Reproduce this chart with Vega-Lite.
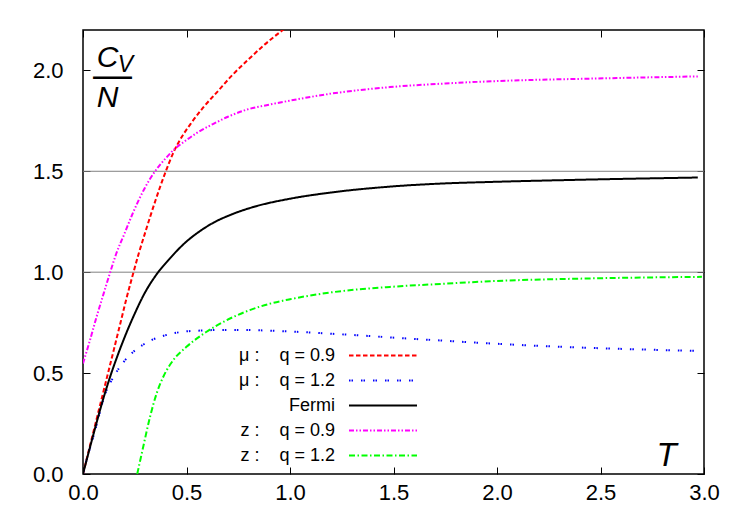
{
  "$schema": "https://vega.github.io/schema/vega-lite/v6.json",
  "width": 621,
  "height": 444,
  "autosize": "none",
  "padding": {"left": 83, "top": 30, "right": 46, "bottom": 51},
  "background": "#ffffff",
  "datasets": {
    "curves": [
      {"s": "A", "T": 0, "C": 0},
      {"s": "A", "T": 0.03, "C": 0.125},
      {"s": "A", "T": 0.07, "C": 0.29},
      {"s": "A", "T": 0.11, "C": 0.455},
      {"s": "A", "T": 0.15, "C": 0.62},
      {"s": "A", "T": 0.18, "C": 0.745},
      {"s": "A", "T": 0.21, "C": 0.87},
      {"s": "A", "T": 0.24, "C": 0.985},
      {"s": "A", "T": 0.27, "C": 1.095},
      {"s": "A", "T": 0.3, "C": 1.195},
      {"s": "A", "T": 0.35, "C": 1.355},
      {"s": "A", "T": 0.4, "C": 1.5},
      {"s": "A", "T": 0.44, "C": 1.6},
      {"s": "A", "T": 0.48, "C": 1.675},
      {"s": "A", "T": 0.52, "C": 1.735},
      {"s": "A", "T": 0.58, "C": 1.815},
      {"s": "A", "T": 0.65, "C": 1.895},
      {"s": "A", "T": 0.72, "C": 1.975},
      {"s": "A", "T": 0.8, "C": 2.055},
      {"s": "A", "T": 0.88, "C": 2.13},
      {"s": "A", "T": 0.965, "C": 2.2},
      {"s": "A", "T": 1.0, "C": 2.228},

      {"s": "B", "T": 0, "C": 0},
      {"s": "B", "T": 0.011, "C": 0.045},
      {"s": "B", "T": 0.059, "C": 0.218},
      {"s": "B", "T": 0.108, "C": 0.4},
      {"s": "B", "T": 0.148, "C": 0.482},
      {"s": "B", "T": 0.197, "C": 0.556},
      {"s": "B", "T": 0.227, "C": 0.59},
      {"s": "B", "T": 0.253, "C": 0.614},
      {"s": "B", "T": 0.324, "C": 0.66},
      {"s": "B", "T": 0.4, "C": 0.688},
      {"s": "B", "T": 0.469, "C": 0.703},
      {"s": "B", "T": 0.55, "C": 0.71},
      {"s": "B", "T": 0.7, "C": 0.714},
      {"s": "B", "T": 0.85, "C": 0.712},
      {"s": "B", "T": 1.024, "C": 0.705},
      {"s": "B", "T": 1.25, "C": 0.692},
      {"s": "B", "T": 1.483, "C": 0.677},
      {"s": "B", "T": 1.75, "C": 0.66},
      {"s": "B", "T": 1.966, "C": 0.647},
      {"s": "B", "T": 2.2, "C": 0.635},
      {"s": "B", "T": 2.449, "C": 0.625},
      {"s": "B", "T": 2.7, "C": 0.617},
      {"s": "B", "T": 2.96, "C": 0.61},

      {"s": "F", "T": 0, "C": 0},
      {"s": "F", "T": 0.05, "C": 0.195},
      {"s": "F", "T": 0.1, "C": 0.38},
      {"s": "F", "T": 0.137, "C": 0.5},
      {"s": "F", "T": 0.17, "C": 0.595},
      {"s": "F", "T": 0.2, "C": 0.675},
      {"s": "F", "T": 0.25, "C": 0.795},
      {"s": "F", "T": 0.3, "C": 0.9},
      {"s": "F", "T": 0.356, "C": 0.99},
      {"s": "F", "T": 0.417, "C": 1.065},
      {"s": "F", "T": 0.5, "C": 1.152},
      {"s": "F", "T": 0.56, "C": 1.2},
      {"s": "F", "T": 0.63, "C": 1.245},
      {"s": "F", "T": 0.72, "C": 1.287},
      {"s": "F", "T": 0.823, "C": 1.323},
      {"s": "F", "T": 1.0, "C": 1.364},
      {"s": "F", "T": 1.2, "C": 1.395},
      {"s": "F", "T": 1.483, "C": 1.424},
      {"s": "F", "T": 1.75, "C": 1.44},
      {"s": "F", "T": 1.966, "C": 1.447},
      {"s": "F", "T": 2.449, "C": 1.459},
      {"s": "F", "T": 2.97, "C": 1.469},

      {"s": "Z9", "T": 0, "C": 0.548},
      {"s": "Z9", "T": 0.03, "C": 0.65},
      {"s": "Z9", "T": 0.066, "C": 0.78},
      {"s": "Z9", "T": 0.1, "C": 0.895},
      {"s": "Z9", "T": 0.13, "C": 0.995},
      {"s": "Z9", "T": 0.16, "C": 1.09},
      {"s": "Z9", "T": 0.2, "C": 1.19},
      {"s": "Z9", "T": 0.243, "C": 1.298},
      {"s": "Z9", "T": 0.3, "C": 1.42},
      {"s": "Z9", "T": 0.348, "C": 1.5},
      {"s": "Z9", "T": 0.4, "C": 1.565},
      {"s": "Z9", "T": 0.436, "C": 1.604},
      {"s": "Z9", "T": 0.5, "C": 1.655},
      {"s": "Z9", "T": 0.55, "C": 1.69},
      {"s": "Z9", "T": 0.63, "C": 1.735},
      {"s": "Z9", "T": 0.7, "C": 1.77},
      {"s": "Z9", "T": 0.79, "C": 1.805},
      {"s": "Z9", "T": 0.9, "C": 1.83},
      {"s": "Z9", "T": 1.0, "C": 1.85},
      {"s": "Z9", "T": 1.2, "C": 1.885},
      {"s": "Z9", "T": 1.483, "C": 1.917},
      {"s": "Z9", "T": 1.75, "C": 1.935},
      {"s": "Z9", "T": 2.0, "C": 1.947},
      {"s": "Z9", "T": 2.449, "C": 1.959},
      {"s": "Z9", "T": 2.97, "C": 1.97},

      {"s": "Z12", "T": 0.262, "C": 0},
      {"s": "Z12", "T": 0.291, "C": 0.135},
      {"s": "Z12", "T": 0.324, "C": 0.284},
      {"s": "Z12", "T": 0.356, "C": 0.4},
      {"s": "Z12", "T": 0.388, "C": 0.482},
      {"s": "Z12", "T": 0.436, "C": 0.564},
      {"s": "Z12", "T": 0.5, "C": 0.63},
      {"s": "Z12", "T": 0.597, "C": 0.705},
      {"s": "Z12", "T": 0.694, "C": 0.762},
      {"s": "Z12", "T": 0.8, "C": 0.81},
      {"s": "Z12", "T": 0.9, "C": 0.843},
      {"s": "Z12", "T": 1.0, "C": 0.866},
      {"s": "Z12", "T": 1.2, "C": 0.9},
      {"s": "Z12", "T": 1.483, "C": 0.927},
      {"s": "Z12", "T": 1.75, "C": 0.943},
      {"s": "Z12", "T": 1.966, "C": 0.955},
      {"s": "Z12", "T": 2.449, "C": 0.969},
      {"s": "Z12", "T": 2.99, "C": 0.977}
    ],
    "grid": [{"g": 1.0}, {"g": 1.5}]
  },
  "layer": [
    {
      "data": {"name": "grid"},
      "mark": {"type": "rule", "color": "#808080", "strokeWidth": 1},
      "encoding": {
        "y": {"field": "g", "type": "quantitative", "scale": {"domain": [0, 2.2], "nice": false, "zero": false}, "axis": null}
      }
    },
    {
      "data": {"name": "curves"},
      "mark": {"type": "line", "strokeWidth": 2, "clip": true, "strokeCap": "butt", "interpolate": "monotone"},
      "encoding": {
        "x": {"field": "T", "type": "quantitative", "scale": {"domain": [0, 3], "nice": false},
          "axis": {"orient": "bottom", "values": [0, 0.5, 1, 1.5, 2, 2.5, 3], "format": ".1f", "labelPadding": 15, "labelFlush": false, "labelFontSize": 22, "labelFont": "Liberation Sans",
            "title": "T", "titleFontSize": 33, "titleX": 583, "titleY": -9, "titleAlign": "center", "titleBaseline": "alphabetic"}},
        "y": {"field": "C", "type": "quantitative", "scale": {"domain": [0, 2.2], "nice": false, "zero": false},
          "axis": {"orient": "left", "values": [0, 0.5, 1, 1.5, 2], "format": ".1f", "labelPadding": 27, "labelFlush": false, "labelFontSize": 22, "labelFont": "Liberation Sans",
            "title": ["C", "N"], "titleFontSize": 30, "titleAngle": 0, "titleX": 24, "titleY": 36.5, "titleAlign": "center", "titleBaseline": "alphabetic", "titleLineHeight": 40}},
        "color": {"field": "s", "type": "nominal",
          "scale": {"domain": ["A", "B", "F", "Z9", "Z12"],
            "range": ["#ff0000", "#0000ff", "#000000", "#ff00ff", "#00ff00"]},
          "legend": {"title": null, "orient": "none", "legendX": 290.5, "legendY": 316, "padding": 0, "symbolType": "M-4,0H4", "symbolSize": 289, "symbolStrokeWidth": 2, "rowPadding": 6, "labelAlign": "right", "labelOffset": -57.5, "labelFont": "Liberation Sans", "labelFontSize": 18, "labelColor": "#000", "labelLimit": 300,
            "labelExpr": "datum.value == 'A' ? 'μ :\u00a0\u00a0\u00a0\u00a0q = 0.9' : datum.value == 'B' ? 'μ :\u00a0\u00a0\u00a0\u00a0q = 1.2' : datum.value == 'F' ? 'Fermi' : datum.value == 'Z9' ? 'z :\u00a0\u00a0\u00a0\u00a0q = 0.9' : 'z :\u00a0\u00a0\u00a0\u00a0q = 1.2'"}},
        "strokeDash": {"field": "s", "type": "nominal",
          "scale": {"domain": ["A", "B", "F", "Z9", "Z12"],
            "range": [[4.5, 2.5], [1.5, 1, 1.5, 8], [1, 0], [5, 2, 1.5, 2, 1.5, 2], [6, 2.5, 1.5, 2.5]]},
          "legend": {"title": null, "orient": "none", "legendX": 290.5, "legendY": 316, "padding": 0, "symbolType": "M-4,0H4", "symbolSize": 289, "symbolStrokeWidth": 2, "rowPadding": 6, "labelAlign": "right", "labelOffset": -57.5, "labelFont": "Liberation Sans", "labelFontSize": 18, "labelColor": "#000", "labelLimit": 300,
            "labelExpr": "datum.value == 'A' ? 'μ :\u00a0\u00a0\u00a0\u00a0q = 0.9' : datum.value == 'B' ? 'μ :\u00a0\u00a0\u00a0\u00a0q = 1.2' : datum.value == 'F' ? 'Fermi' : datum.value == 'Z9' ? 'z :\u00a0\u00a0\u00a0\u00a0q = 0.9' : 'z :\u00a0\u00a0\u00a0\u00a0q = 1.2'"}}
      }
    },
    {
      "data": {"name": "curves"},
      "mark": {"type": "line", "opacity": 0},
      "encoding": {
        "x": {"field": "T", "type": "quantitative", "scale": {"domain": [0, 3], "nice": false},
          "axis": {"orient": "top", "values": [0, 0.5, 1, 1.5, 2, 2.5, 3], "labels": false,
            "title": "—", "titleFontSize": 39, "titleFontStyle": "normal", "titleX": 29, "titleY": 57, "titleAlign": "center", "titleBaseline": "alphabetic"}},
        "y": {"field": "C", "type": "quantitative", "scale": {"domain": [0, 2.2], "nice": false, "zero": false},
          "axis": {"orient": "right", "values": [0, 0.5, 1, 1.5, 2], "labels": false,
            "title": "V", "titleFontSize": 23, "titleAngle": 0, "titleX": -579, "titleY": 41.7, "titleAlign": "center", "titleBaseline": "alphabetic"}},
        "detail": {"field": "s", "type": "nominal"}
      }
    }
  ],
  "resolve": {"axis": {"x": "independent", "y": "independent"}},
  "config": {
    "view": {"stroke": "#000000", "strokeWidth": 1.5},
    "axis": {"labelFont": "Liberation Sans", "labelFontSize": 22, "labelColor": "#000", "tickColor": "#000", "tickSize": -7, "tickWidth": 1, "domain": false, "grid": false,
      "titleFont": "Liberation Sans", "titleFontStyle": "italic", "titleFontWeight": "normal", "titleColor": "#000"}
  }
}
